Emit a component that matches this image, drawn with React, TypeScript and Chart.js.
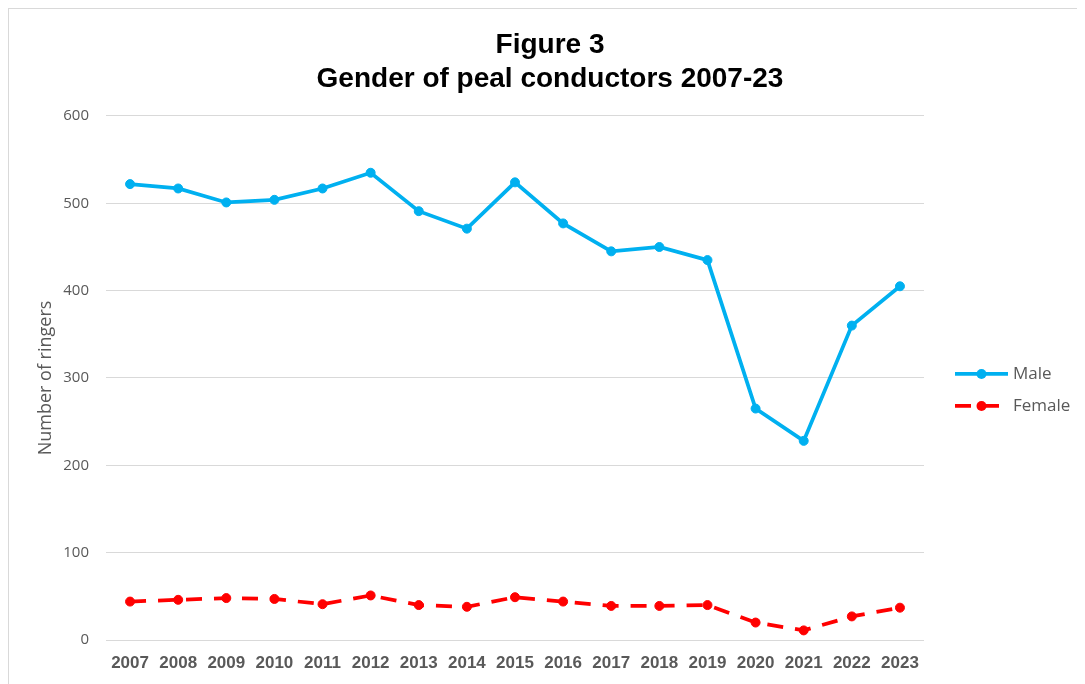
import React, { useEffect, useRef } from "react";
import { Chart, registerables } from "chart.js";

Chart.register(...registerables);

const years = ["2007", "2008", "2009", "2010", "2011", "2012", "2013", "2014", "2015", "2016", "2017", "2018", "2019", "2020", "2021", "2022", "2023"];
const maleValues = [522, 517, 501, 504, 517, 535, 491, 471, 524, 477, 445, 450, 435, 265, 228, 360, 405];
const femaleValues = [44, 46, 48, 47, 41, 51, 40, 38, 49, 44, 39, 39, 40, 20, 11, 27, 37];
const seriesNames = ["Male", "Female"];
const seriesColors = ["#00B0F0", "#FF0000"];
const titleLines = ["Figure 3", "Gender of peal conductors 2007-23"];
const yAxisTitle = "Number of ringers";
const yMin = 0;
const yMax = 600;
const yStep = 100;

const legendPlugin = {
  id: "sideLegend",
  afterDraw(chart: any) {
    const { ctx, chartArea } = chart;
    const x1 = chartArea.right + 31;
    const x2 = chartArea.right + 84;
    const xm = (x1 + x2) / 2;
    const tx = chartArea.right + 89;
    const cy = (chartArea.top + chartArea.bottom) / 2 - 4;
    ctx.save();
    chart.data.datasets.forEach((ds: any, i: number) => {
      const y = cy + i * 32;
      ctx.strokeStyle = ds.borderColor;
      ctx.lineWidth = ds.borderWidth;
      ctx.setLineDash(ds.borderDash || []);
      ctx.beginPath();
      ctx.moveTo(x1, y);
      ctx.lineTo(x2, y);
      ctx.stroke();
      ctx.setLineDash([]);
      ctx.fillStyle = ds.pointBackgroundColor;
      ctx.beginPath();
      ctx.arc(xm, y, 5, 0, Math.PI * 2);
      ctx.fill();
      ctx.fillStyle = "#595959";
      ctx.font = "17px 'Open Sans'";
      ctx.textBaseline = "middle";
      ctx.textAlign = "left";
      ctx.fillText(ds.label, tx, y);
    });
    ctx.restore();
  },
};

export default function App() {
  const ref = useRef<HTMLCanvasElement | null>(null);

  useEffect(() => {
    if (!ref.current) return;
    const chart = new Chart(ref.current, {
      type: "line",
      data: {
        labels: years,
        datasets: [
          {
            label: seriesNames[0],
            data: maleValues,
            borderColor: seriesColors[0],
            backgroundColor: seriesColors[0],
            pointBackgroundColor: seriesColors[0],
            pointBorderColor: seriesColors[0],
            borderWidth: 3.75,
            pointRadius: 4.5,
            pointBorderWidth: 1,
            tension: 0,
          },
          {
            label: seriesNames[1],
            data: femaleValues,
            borderColor: seriesColors[1],
            backgroundColor: seriesColors[1],
            pointBackgroundColor: seriesColors[1],
            pointBorderColor: seriesColors[1],
            borderWidth: 3.75,
            borderDash: [16, 12],
            pointRadius: 4.5,
            pointBorderWidth: 1,
            tension: 0,
          },
        ],
      },
      options: {
        animation: false,
        responsive: true,
        maintainAspectRatio: false,
        layout: { padding: 0 },
        plugins: {
          legend: { display: false },
          tooltip: { enabled: false },
          title: {
            display: true,
            text: titleLines,
            color: "#000000",
            font: { family: "'Liberation Sans', Arial, sans-serif", size: 28, weight: "bold", lineHeight: 1.214 },
            padding: { top: 19, bottom: 20 },
          },
        },
        scales: {
          x: {
            offset: true,
            grid: { display: false, drawTicks: false },
            border: { display: false },
            ticks: {
              color: "#595959",
              font: { family: "'Liberation Sans', Arial, sans-serif", size: 17, weight: "bold" },
              padding: 13,
              maxRotation: 0,
              autoSkip: false,
            },
            afterFit: (s: any) => {
              s.height = 44;
            },
          },
          y: {
            min: yMin,
            max: yMax,
            grid: { color: "#d9d9d9", lineWidth: 1, drawTicks: false },
            border: { display: false },
            ticks: {
              stepSize: yStep,
              color: "#595959",
              font: { family: "'Open Sans', sans-serif", size: 15 },
              padding: 17,
            },
            title: {
              display: true,
              text: yAxisTitle,
              color: "#595959",
              font: { family: "'Open Sans', sans-serif", size: 18 },
              padding: { top: 26, bottom: 0 },
            },
            afterFit: (s: any) => {
              s.width = 97;
            },
          },
          yRight: {
            position: "right",
            display: true,
            grid: { display: false, drawTicks: false },
            border: { display: false },
            ticks: { display: false },
            afterFit: (s: any) => {
              s.width = 167;
            },
          },
        },
      },
      plugins: [legendPlugin],
    });
    return () => chart.destroy();
  }, []);

  return (
    <div
      style={{
        width: 1076,
        height: 675,
        borderTop: "1px solid #d9d9d9",
        borderLeft: "1px solid #d9d9d9",
        overflow: "hidden",
        position: "relative",
        background: "#ffffff",
      }}
    >
      <div style={{ position: "absolute", left: 0, top: 0, width: 1082, height: 675 }}>
        <canvas ref={ref} />
      </div>
    </div>
  );
}
